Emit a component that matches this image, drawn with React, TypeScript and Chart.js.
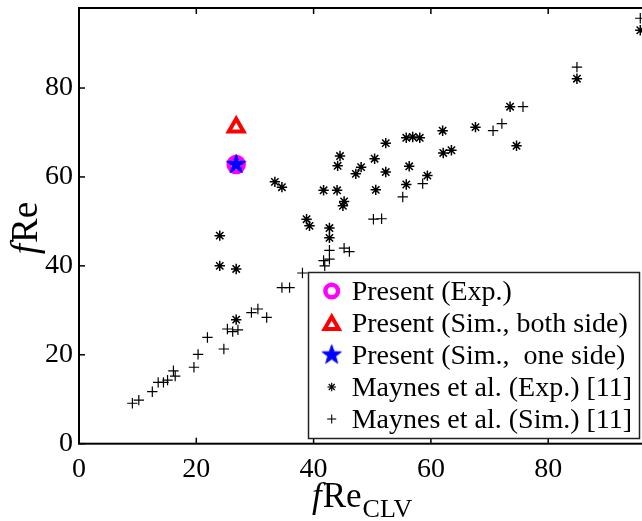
import React, { useEffect, useRef } from 'react';
import { Chart, registerables } from 'chart.js';

Chart.register(...registerables);

// ---------- data ----------
const presentExpX = [26.8];
const presentExpY = [62.8];

const presentSimBothX = [26.8];
const presentSimBothY = [71.2];

const presentSimOneX = [26.8];
const presentSimOneY = [62.8];

const maynesExpX = [24.0, 24.0, 26.8, 26.8, 33.4, 34.6, 38.8, 39.3, 41.7, 44.0, 44.5, 44.1, 45.2, 45.0, 42.7, 42.7, 47.2, 48.1, 50.4, 50.6, 52.3, 52.3, 55.8, 56.9, 58.1, 56.3, 55.8, 59.4, 62.0, 62.1, 63.5, 67.6, 73.5, 74.6, 84.9, 95.7];
const maynesExpY = [46.8, 40.0, 39.3, 27.9, 58.9, 57.7, 50.5, 49.0, 57.0, 57.0, 64.7, 62.5, 54.5, 53.5, 48.5, 46.3, 60.7, 62.2, 64.1, 57.1, 67.6, 61.1, 68.8, 69.0, 68.8, 62.4, 58.3, 60.3, 70.4, 65.4, 66.0, 71.2, 75.8, 67.0, 82.1, 93.0];

const maynesSimX = [9.1, 10.2, 12.5, 13.5, 14.4, 15.1, 16.1, 16.4, 19.6, 20.3, 21.9, 24.7, 25.3, 26.2, 27.1, 29.4, 30.5, 32.0, 34.6, 35.9, 38.1, 41.9, 41.7, 42.7, 42.7, 45.2, 46.1, 50.2, 51.6, 55.2, 58.6, 70.6, 72.1, 75.7, 84.9, 95.7];
const maynesSimY = [9.1, 9.8, 11.7, 13.8, 13.8, 14.3, 16.4, 15.2, 17.2, 20.1, 23.9, 21.3, 25.8, 25.2, 25.6, 29.5, 30.3, 28.4, 35.1, 35.1, 38.4, 40.0, 41.2, 41.5, 43.5, 44.0, 43.2, 50.5, 50.6, 55.5, 58.5, 70.4, 72.0, 75.8, 84.7, 95.7];

const xTicks = [0, 20, 40, 60, 80];
const yTicks = [0, 20, 40, 60, 80];

const legendLabels = [
  'Present (Exp.)',
  'Present (Sim., both side)',
  'Present (Sim.,  one side)',
  'Maynes et al. (Exp.) [11]',
  'Maynes et al. (Sim.) [11]',
];

// ---------- helpers ----------
const FONT = '"Liberation Serif", "Times New Roman", serif';
const pts = (xs: number[], ys: number[]) => xs.map((x, i) => ({ x, y: ys[i] }));

function makeStar(R: number, r: number, color: string): HTMLCanvasElement {
  const size = Math.ceil(R * 2 + 2);
  const c = document.createElement('canvas');
  c.width = size;
  c.height = size;
  const ctx = c.getContext('2d')!;
  ctx.translate(size / 2, size / 2);
  ctx.beginPath();
  for (let i = 0; i < 10; i++) {
    const a = -Math.PI / 2 + (i * Math.PI) / 5;
    const rr = i % 2 === 0 ? R : r;
    ctx.lineTo(rr * Math.cos(a), rr * Math.sin(a));
  }
  ctx.closePath();
  ctx.fillStyle = color;
  ctx.fill();
  ctx.strokeStyle = color;
  ctx.lineWidth = 1;
  ctx.stroke();
  return c;
}

function line(ctx: CanvasRenderingContext2D, x1: number, y1: number, x2: number, y2: number) {
  ctx.beginPath();
  ctx.moveTo(x1, y1);
  ctx.lineTo(x2, y2);
  ctx.stroke();
}

// plot frame in canvas pixels
const AREA = { left: 79, top: 8, right: 665.5, bottom: 443.7 };

const fixAreaPlugin = {
  id: 'fixArea',
  afterLayout(chart: any) {
    const a = chart.chartArea;
    a.left = AREA.left;
    a.top = AREA.top;
    a.right = AREA.right;
    a.bottom = AREA.bottom;
    a.width = a.right - a.left;
    a.height = a.bottom - a.top;
    const x = chart.scales.x;
    x.left = AREA.left;
    x.right = AREA.right;
    x.width = AREA.right - AREA.left;
    x.top = AREA.bottom;
    x.bottom = chart.height;
    x.height = x.bottom - x.top;
    x.configure();
    const y = chart.scales.y;
    y.left = 0;
    y.right = AREA.left;
    y.width = AREA.left;
    y.top = AREA.top;
    y.bottom = AREA.bottom;
    y.height = AREA.bottom - AREA.top;
    y.configure();
  },
};

const overlayPlugin = (star: HTMLCanvasElement) => ({
  id: 'overlay',
  afterDatasetsDraw(chart: any) {
    const { ctx, chartArea: a, scales } = chart;
    ctx.save();
    // frame
    ctx.strokeStyle = '#000';
    ctx.lineWidth = 2;
    ctx.strokeRect(a.left, a.top, a.right - a.left, a.bottom - a.top);
    ctx.lineWidth = 1.5;
    xTicks.forEach((v) => {
      const px = scales.x.getPixelForValue(v);
      line(ctx, px, a.bottom, px, a.bottom - 6);
      line(ctx, px, a.top, px, a.top + 6);
    });
    yTicks.forEach((v) => {
      const py = scales.y.getPixelForValue(v);
      line(ctx, a.left, py, a.left + 6, py);
      line(ctx, a.right, py, a.right - 6, py);
    });

    // legend
    const L = 308.5, T = 272.5, R = 639.5, B = 438.5;
    ctx.fillStyle = '#fff';
    ctx.fillRect(L, T, R - L, B - T);
    ctx.strokeStyle = '#222';
    ctx.lineWidth = 1.5;
    ctx.strokeRect(L, T, R - L, B - T);
    const mx = 331.7;
    const rows = [291, 323, 355, 387, 419];
    // circle
    ctx.strokeStyle = '#ff00ff';
    ctx.lineWidth = 4.5;
    ctx.beginPath();
    ctx.arc(mx, rows[0], 6.3, 0, Math.PI * 2);
    ctx.stroke();
    // triangle
    ctx.strokeStyle = '#ff0000';
    ctx.lineWidth = 4;
    ctx.beginPath();
    const tr = 8.2, ty = rows[1] + 2;
    ctx.moveTo(mx, ty - tr);
    ctx.lineTo(mx + 0.866 * tr, ty + 0.5 * tr);
    ctx.lineTo(mx - 0.866 * tr, ty + 0.5 * tr);
    ctx.closePath();
    ctx.stroke();
    // star
    ctx.drawImage(star, mx - star.width / 2, rows[2] - star.height / 2);
    // asterisk
    ctx.strokeStyle = '#000';
    ctx.lineWidth = 1.2;
    const ar = 4.2;
    line(ctx, mx - ar, rows[3], mx + ar, rows[3]);
    line(ctx, mx, rows[3] - ar, mx, rows[3] + ar);
    const d = ar * 0.707;
    line(ctx, mx - d, rows[3] - d, mx + d, rows[3] + d);
    line(ctx, mx - d, rows[3] + d, mx + d, rows[3] - d);
    // plus
    ctx.lineWidth = 1.1;
    const pr = 4.5;
    line(ctx, mx - pr, rows[4], mx + pr, rows[4]);
    line(ctx, mx, rows[4] - pr, mx, rows[4] + pr);
    // texts
    ctx.fillStyle = '#000';
    ctx.font = `28px ${FONT}`;
    ctx.textAlign = 'left';
    ctx.textBaseline = 'alphabetic';
    legendLabels.forEach((t, i) => ctx.fillText(t, 351.7, rows[i] + 9));

    // x axis title: fRe_CLV
    const xt = 312, xb = 507;
    ctx.font = `italic 35px ${FONT}`;
    ctx.fillText('f', xt, xb);
    const wf = ctx.measureText('f').width;
    ctx.font = `35px ${FONT}`;
    ctx.fillText('Re', xt + wf + 1, xb);
    const wRe = ctx.measureText('Re').width;
    ctx.font = `26px ${FONT}`;
    ctx.fillText('CLV', xt + wf + 1 + wRe + 1, xb + 10);

    // y axis title: fRe (rotated)
    ctx.save();
    ctx.translate(37, 228);
    ctx.rotate(-Math.PI / 2);
    ctx.font = `italic 37px ${FONT}`;
    const wf2 = ctx.measureText('f').width;
    ctx.font = `37px ${FONT}`;
    const wRe2 = ctx.measureText('Re').width;
    const total = wf2 + 1 + wRe2;
    ctx.font = `italic 37px ${FONT}`;
    ctx.fillText('f', -total / 2, 0);
    ctx.font = `37px ${FONT}`;
    ctx.fillText('Re', -total / 2 + wf2 + 1, 0);
    ctx.restore();

    ctx.restore();
  },
});

export default function App() {
  const ref = useRef<HTMLCanvasElement>(null);
  useEffect(() => {
    const canvas = ref.current!;
    const star = makeStar(10.2, 4.1, '#0000ff');
    const chart = new Chart(canvas, {
      type: 'scatter',
      data: {
        datasets: [
          {
            label: legendLabels[2],
            data: pts(presentSimOneX, presentSimOneY),
            pointStyle: star as any,
            pointRadius: 10,
          },
          {
            label: legendLabels[1],
            data: pts(presentSimBothX, presentSimBothY),
            pointStyle: 'triangle',
            pointRadius: 8.5,
            pointBorderWidth: 4,
            borderColor: '#ff0000',
            backgroundColor: 'rgba(0,0,0,0)',
          },
          {
            label: legendLabels[0],
            data: pts(presentExpX, presentExpY),
            pointStyle: 'circle',
            pointRadius: 7.5,
            pointBorderWidth: 4.5,
            borderColor: '#ff00ff',
            backgroundColor: 'rgba(0,0,0,0)',
          },
          {
            label: legendLabels[3],
            data: pts(maynesExpX, maynesExpY),
            pointStyle: 'star',
            pointRadius: 5.2,
            pointBorderWidth: 1.5,
            borderColor: '#000',
            backgroundColor: '#000',
          },
          {
            label: legendLabels[4],
            data: pts(maynesSimX, maynesSimY),
            pointStyle: 'cross',
            pointRadius: 5.2,
            pointBorderWidth: 1.2,
            borderColor: '#000',
            backgroundColor: '#000',
          },
        ],
      },
      options: {
        animation: false,
        responsive: false,
        devicePixelRatio: 1,
        events: [],
        layout: { padding: { top: 8, right: 14.5, left: 0, bottom: 0 } },
        plugins: { legend: { display: false }, tooltip: { enabled: false } },
        scales: {
          x: {
            type: 'linear',
            min: 0,
            max: 100,
            afterBuildTicks: (s: any) => {
              s.ticks = xTicks.map((v) => ({ value: v }));
            },
            grid: { display: false, drawTicks: false },
            border: { display: false },
            ticks: {
              color: '#000',
              padding: 9,
              maxRotation: 0,
              autoSkip: false,
              font: { family: FONT, size: 28 },
            },
          },
          y: {
            type: 'linear',
            min: 0,
            max: 98,
            afterBuildTicks: (s: any) => {
              s.ticks = yTicks.map((v) => ({ value: v }));
            },
            grid: { display: false, drawTicks: false },
            border: { display: false },
            ticks: {
              color: '#000',
              padding: 6,
              autoSkip: false,
              font: { family: FONT, size: 28 },
            },
          },
        },
      },
      plugins: [fixAreaPlugin, overlayPlugin(star)],
    });
    return () => chart.destroy();
  }, []);
  return (
    <div
      style={{
        position: 'fixed',
        left: 0,
        top: 0,
        width: 642,
        height: 521,
        overflow: 'hidden',
        background: '#fff',
      }}
    >
      <canvas ref={ref} width={680} height={521} style={{ display: 'block', width: 680, height: 521 }} />
    </div>
  );
}
